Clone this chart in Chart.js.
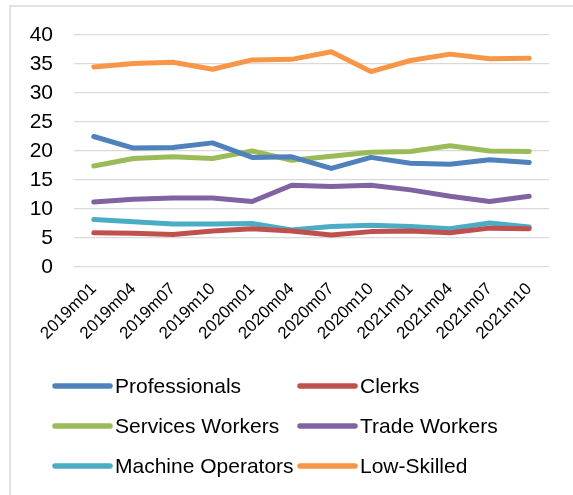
<!DOCTYPE html>
<html>
<head>
<meta charset="utf-8">
<script src="https://cdn.jsdelivr.net/npm/chart.js@4"></script>
<style>
  html, body { margin: 0; padding: 0; background: #fff; }
  canvas { display: block; }
</style>
</head>
<body>
<canvas id="c" width="573" height="495"></canvas>
<script>
const categories = ["2019m01","2019m04","2019m07","2019m10","2020m01","2020m04","2020m07","2020m10","2021m01","2021m04","2021m07","2021m10"];
const professionals = [22.5, 20.5, 20.6, 21.4, 18.9, 19.0, 17.0, 18.9, 17.9, 17.7, 18.5, 18.0];
const clerks        = [5.9, 5.8, 5.6, 6.2, 6.6, 6.2, 5.5, 6.1, 6.2, 5.9, 6.7, 6.6];
const services      = [17.4, 18.7, 19.0, 18.7, 20.0, 18.4, 19.1, 19.8, 19.9, 20.9, 20.0, 19.9];
const trade         = [11.2, 11.7, 11.9, 11.9, 11.3, 14.1, 13.9, 14.1, 13.3, 12.2, 11.3, 12.2];
const machine       = [8.2, 7.8, 7.4, 7.4, 7.5, 6.4, 7.0, 7.2, 7.0, 6.6, 7.6, 6.9];
const lowSkilled    = [34.5, 35.1, 35.3, 34.1, 35.7, 35.8, 37.1, 33.7, 35.6, 36.7, 35.9, 36.0];
const seriesNames   = ["Professionals","Clerks","Services Workers","Trade Workers","Machine Operators","Low-Skilled"];
const yTicks        = [0, 5, 10, 15, 20, 25, 30, 35, 40];

const colors = ["#4F81BD","#C0504D","#9BBB59","#8064A2","#4BACC6","#F79646"];
const allSeries = [professionals, clerks, services, trade, machine, lowSkilled];
const FONT = "'Liberation Sans', Arial, sans-serif";

const datasets = allSeries.map((d, i) => ({
  label: seriesNames[i],
  data: d,
  borderColor: colors[i],
  backgroundColor: colors[i],
  borderWidth: 5,
  pointRadius: 0,
  tension: 0,
  fill: false,
  borderCapStyle: 'round',
  borderJoinStyle: 'round'
}));

const framePlugin = {
  id: 'frame',
  beforeDraw(chart) {
    const ctx = chart.ctx;
    ctx.save();
    ctx.strokeStyle = '#d9d9d9';
    ctx.lineWidth = 1.5;
    ctx.beginPath();
    ctx.moveTo(10, 495);
    ctx.lineTo(10, 6);
    ctx.lineTo(573, 6);
    ctx.stroke();
    ctx.restore();
  }
};

const gridLegendPlugin = {
  id: 'gridLegend',
  afterDraw(chart) {
    const ctx = chart.ctx;
    const colX = [55, 300];
    const rowY = [386, 426, 466];
    ctx.save();
    ctx.font = "21px " + FONT;
    ctx.textBaseline = 'middle';
    ctx.textAlign = 'left';
    chart.data.datasets.forEach((ds, i) => {
      const cx = colX[i % 2];
      const cy = rowY[Math.floor(i / 2)];
      ctx.strokeStyle = ds.borderColor;
      ctx.lineWidth = 5.5;
      ctx.lineCap = 'round';
      ctx.beginPath();
      ctx.moveTo(cx, cy);
      ctx.lineTo(cx + 55, cy);
      ctx.stroke();
      ctx.fillStyle = '#000';
      ctx.fillText(ds.label, cx + 60, cy + 1);
    });
    ctx.restore();
  }
};

new Chart(document.getElementById('c'), {
  type: 'line',
  data: { labels: categories, datasets },
  plugins: [framePlugin, gridLegendPlugin],
  options: {
    responsive: false,
    animation: false,
    layout: { padding: { left: 0, right: 24, top: 35, bottom: 0 } },
    plugins: { legend: { display: false }, tooltip: { enabled: false } },
    scales: {
      x: {
        offset: true,
        grid: { display: false, drawTicks: false },
        border: { display: false },
        ticks: {
          autoSkip: false,
          minRotation: 45,
          maxRotation: 45,
          padding: 12,
          color: '#000',
          font: { family: FONT, size: 17 }
        },
        afterFit(scale) { scale.height = 228; }
      },
      y: {
        min: 0,
        max: 40,
        afterBuildTicks(scale) { scale.ticks = yTicks.map(v => ({ value: v })); },
        grid: { color: '#d9d9d9', lineWidth: 1.3, drawTicks: false },
        border: { display: false },
        ticks: {
          padding: 21,
          color: '#000',
          font: { family: FONT, size: 21 }
        },
        afterFit(scale) { scale.width = 74; }
      }
    }
  }
});
</script>
</body>
</html>
